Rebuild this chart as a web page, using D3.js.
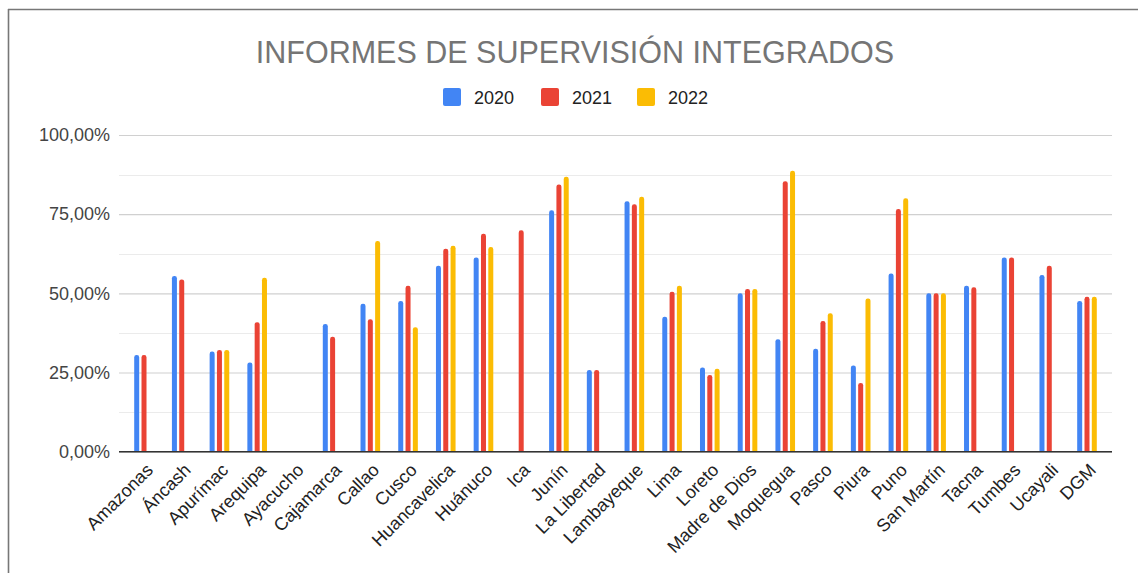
<!DOCTYPE html>
<html>
<head>
<meta charset="utf-8">
<script src="https://cdn.jsdelivr.net/npm/d3@7"></script>
<style>
  html, body { margin: 0; padding: 0; background: #fff; }
  svg { display: block; font-family: "Liberation Sans", Arial, sans-serif; }
</style>
</head>
<body>
<svg id="chart" width="1138" height="573"></svg>
<script>
// Regions and dependencies
const categories = ["Amazonas", "Áncash", "Apurímac", "Arequipa", "Ayacucho", "Cajamarca",
  "Callao", "Cusco", "Huancavelica", "Huánuco", "Ica", "Junín", "La Libertad", "Lambayeque",
  "Lima", "Loreto", "Madre de Dios", "Moquegua", "Pasco", "Piura", "Puno", "San Martín",
  "Tacna", "Tumbes", "Ucayali", "DGM"];

const seriesNames = ["2020", "2021", "2022"];

// Share of integrated supervision reports per year (fraction, null = no report)
const values2020 = [0.305, 0.555, 0.316, 0.282, null, 0.403, 0.467, 0.476, 0.587, 0.613,
  null, 0.762, 0.258, 0.791, 0.426, 0.266, 0.500, 0.355, 0.325, 0.272, 0.563, 0.500,
  0.524, 0.613, 0.558, 0.476];
const values2021 = [0.305, 0.544, 0.321, 0.409, null, 0.363, 0.418, 0.524, 0.641, 0.688,
  0.699, 0.844, 0.258, 0.781, 0.505, 0.242, 0.514, 0.854, 0.413, 0.217, 0.766, 0.500,
  0.519, 0.613, 0.587, 0.489];
const values2022 = [null, null, 0.321, 0.549, null, null, 0.665, 0.393, 0.650, 0.646,
  null, 0.868, null, 0.805, 0.524, 0.262, 0.514, 0.887, 0.437, 0.484, 0.800, 0.500,
  null, null, null, 0.489];

const yTickValues = [0, 0.25, 0.5, 0.75, 1];
const colors = ["#4285F4", "#EA4335", "#FBBC04"];

const seriesValues = [values2020, values2021, values2022];
const rows = categories.map((c, i) => ({
  category: c,
  values: seriesNames.map((s, k) => ({ series: s, value: seriesValues[k][i] }))
}));

const svg = d3.select("#chart");
const W = 1138, H = 573;

// Frame lines along top and left edges
svg.append("line").attr("x1", 8).attr("x2", W).attr("y1", 9.5).attr("y2", 9.5)
  .attr("stroke", "#777").attr("stroke-width", 1.6);
svg.append("line").attr("x1", 8.5).attr("x2", 8.5).attr("y1", 9).attr("y2", H)
  .attr("stroke", "#777").attr("stroke-width", 1.6);

const plot = { left: 119, right: 1112, top: 135, bottom: 451.7 };

const x0 = d3.scaleBand().domain(categories)
  .range([plot.left, plot.right]).paddingInner(0.48).paddingOuter(0.403);
const x1 = d3.scaleBand().domain(seriesNames)
  .range([0, x0.bandwidth()]).paddingInner(0.315).paddingOuter(0);
const y = d3.scaleLinear().domain([0, 1]).range([plot.bottom, plot.top]);

const locale = d3.formatLocale({ decimal: ",", thousands: ".", grouping: [3], currency: ["", "€"] });
const pct = locale.format(".2%");

// Minor gridlines halfway between labelled ticks
const minorTicks = d3.pairs(yTickValues).map(([a, b]) => (a + b) / 2);
svg.append("g").selectAll("line").data(minorTicks).join("line")
  .attr("x1", plot.left).attr("x2", plot.right)
  .attr("y1", d => Math.round(y(d)) + 0.5).attr("y2", d => Math.round(y(d)) + 0.5)
  .attr("stroke", "#ebebeb").attr("stroke-width", 1);

// Major gridlines + y labels
const yAxis = d3.axisLeft(y).tickValues(yTickValues).tickFormat(pct)
  .tickSize(-(plot.right - plot.left)).tickPadding(9);
const gy = svg.append("g").attr("transform", `translate(${plot.left},0)`).call(yAxis);
gy.select(".domain").remove();
gy.selectAll(".tick line").attr("stroke", "#d0d0d0").attr("stroke-width", 1.2);
gy.selectAll(".tick text").attr("fill", "#444").attr("font-size", 18)
  .attr("font-family", "'Liberation Sans', Arial, sans-serif");

// Bars with rounded tops
function barPath(x, w, yTop, yBase) {
  const r = Math.min(2.3, w / 2, (yBase - yTop));
  return `M${x},${yBase}V${yTop + r}Q${x},${yTop} ${x + r},${yTop}H${x + w - r}` +
    `Q${x + w},${yTop} ${x + w},${yTop + r}V${yBase}Z`;
}
const groups = svg.append("g").selectAll("g").data(rows).join("g")
  .attr("transform", d => `translate(${x0(d.category)},0)`);
groups.selectAll("path").data(d => d.values.filter(v => v.value != null)).join("path")
  .attr("d", v => barPath(x1(v.series), x1.bandwidth(), y(v.value), y(0)))
  .attr("fill", v => colors[seriesNames.indexOf(v.series)]);

// Baseline
svg.append("line").attr("x1", plot.left).attr("x2", plot.right)
  .attr("y1", y(0)).attr("y2", y(0)).attr("stroke", "#333").attr("stroke-width", 1.6);

// Category labels, rotated
const xAxis = d3.axisBottom(x0).tickSize(0).tickPadding(0);
const gx = svg.append("g").attr("transform", `translate(0,${plot.bottom})`).call(xAxis);
gx.select(".domain").remove();
gx.selectAll(".tick text")
  .attr("font-size", 18).attr("fill", "#222")
  .attr("font-family", "'Liberation Sans', Arial, sans-serif")
  .attr("text-anchor", "end")
  .attr("dy", null)
  .attr("y", 0)
  .attr("transform", "translate(10,19.5) rotate(-45)");

// Title
svg.append("text").attr("x", 575).attr("y", 63).attr("text-anchor", "middle")
  .attr("font-size", 30.5).attr("fill", "#757575")
  .text("INFORMES DE SUPERVISIÓN INTEGRADOS");

// Legend
const legendX = [443, 541, 637];
const lg = svg.append("g").selectAll("g").data(seriesNames).join("g")
  .attr("transform", (d, i) => `translate(${legendX[i]},88)`);
lg.append("rect").attr("width", 18).attr("height", 18).attr("rx", 2)
  .attr("fill", (d, i) => colors[i]);
lg.append("text").attr("x", 31).attr("y", 16).attr("font-size", 18).attr("fill", "#222")
  .text(d => d);
</script>
</body>
</html>
